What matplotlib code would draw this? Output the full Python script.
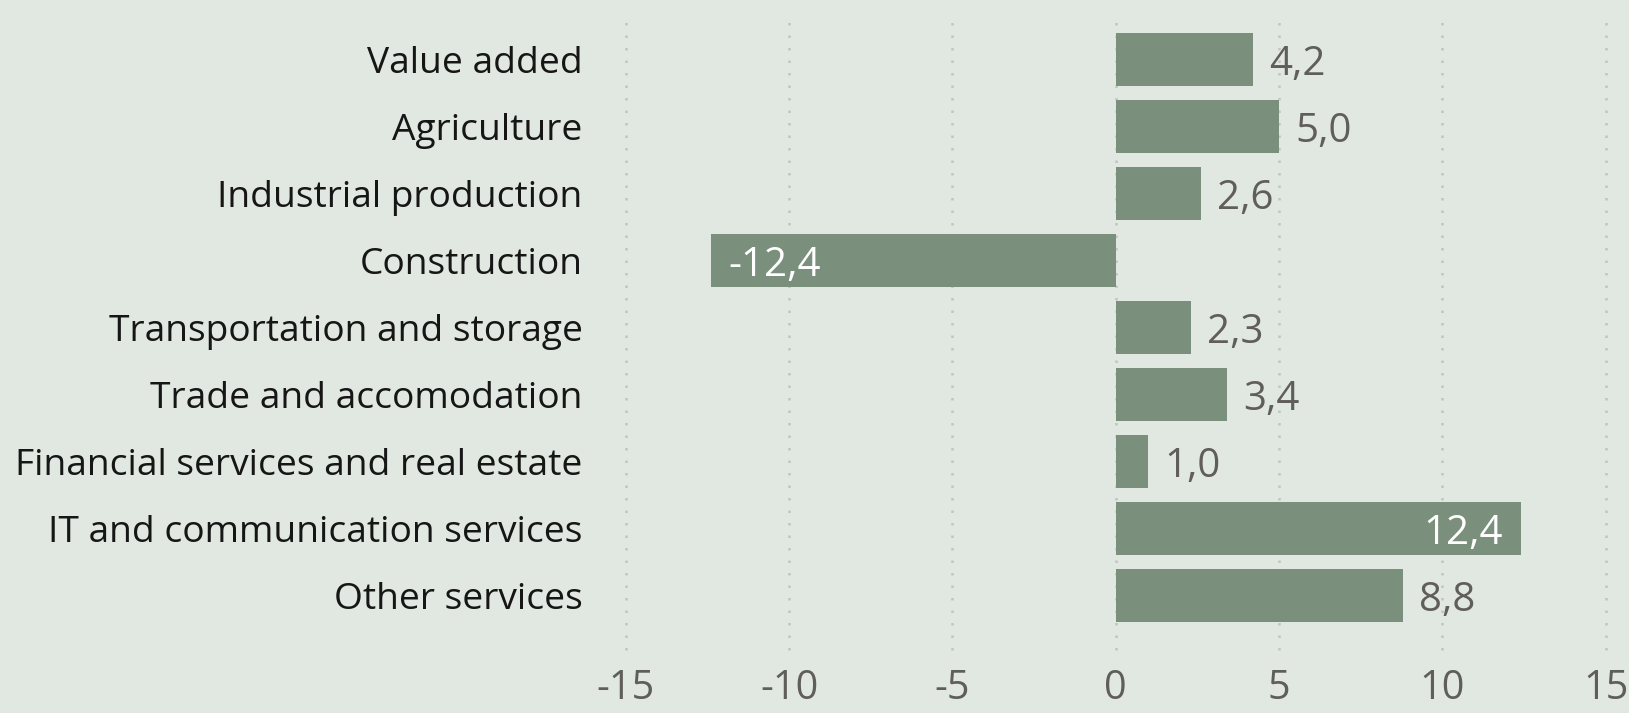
import matplotlib
matplotlib.use('Agg')
import matplotlib.pyplot as plt

categories = ["Value added", "Agriculture", "Industrial production", "Construction",
              "Transportation and storage", "Trade and accomodation",
              "Financial services and real estate", "IT and communication services",
              "Other services"]
values = [4.2, 5.0, 2.6, -12.4, 2.3, 3.4, 1.0, 12.4, 8.8]
xticks = [-15, -10, -5, 0, 5, 10, 15]
xtick_labels = ["-15", "-10", "-5", "0", "5", "10", "15"]

BG = "#E1E8E1"
BAR = "#7A8F7C"
DARK = "#161616"
GREY = "#605E5C"
FONT = "Open Sans"

plt.rcParams['font.family'] = [FONT, 'DejaVu Sans']
plt.rcParams['axes.unicode_minus'] = False

fig = plt.figure(figsize=(16.29, 7.13), dpi=100)
fig.patch.set_facecolor(BG)
ax = fig.add_axes([0.3841, 0.0884, 0.6016, 0.8878])
ax.set_facecolor(BG)

ypos = list(range(len(categories)))
ax.barh(ypos, values, height=0.79, color=BAR, zorder=2)
ax.set_xlim(-15, 15)
ax.set_ylim(8.82, -0.63)

for s in ax.spines.values():
    s.set_visible(False)

ax.set_xticks(xticks)
ax.set_xticklabels(xtick_labels)
ax.set_yticks(ypos)
ax.set_yticklabels(categories)
ax.tick_params(axis='x', length=0, pad=13, labelsize=28.5, labelcolor=GREY)
ax.tick_params(axis='y', length=0, pad=31, labelsize=26.7, labelcolor=DARK)

ax.xaxis.grid(True, linestyle=(0, (1, 4)), linewidth=1.8, color="#C2C5C2", zorder=0)
ax.yaxis.grid(False)
ax.set_axisbelow(True)
for gl in ax.get_xgridlines():
    gl.set_clip_on(False)

for i, v in enumerate(values):
    txt = f"{v:.1f}".replace('.', ',')
    if abs(v) > 10:
        off = -13 if v > 0 else 13
        ha = 'right' if v > 0 else 'left'
        col = 'white'
    else:
        off = 11.5 if v >= 0 else -11.5
        ha = 'left' if v >= 0 else 'right'
        col = GREY
    ax.annotate(txt, xy=(v, i), xytext=(off, -4), textcoords='offset points',
                ha=ha, va='center', fontsize=29, color=col, zorder=3)

fig.savefig("out.png", dpi=100, facecolor=BG)
